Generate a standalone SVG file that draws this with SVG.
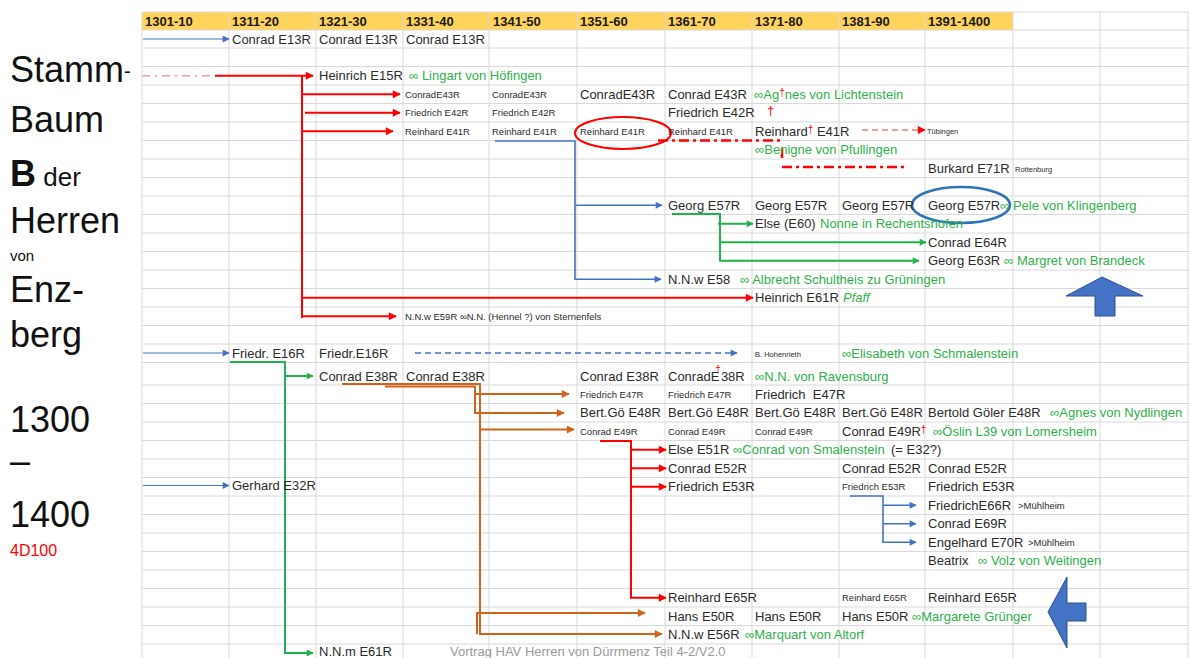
<svg xmlns="http://www.w3.org/2000/svg" width="1189" height="658" viewBox="0 0 1189 658">
<defs>
<style>
.n{font-family:"Liberation Sans",Arial,sans-serif;font-size:13px;fill:#2b2b2b}
.s{font-size:9.5px}
.xs{font-size:7.5px}
.g{fill:#2fb04c}
.r{fill:#ff0000}
.hd{font-family:"Liberation Sans",Arial,sans-serif;font-size:13px;font-weight:bold;fill:#1a1a1a}
.ti{font-family:"Liberation Sans",Arial,sans-serif;font-size:36px;fill:#111}
.grid{stroke:#d9d9d9;stroke-width:1;fill:none}
.lr{stroke:#ff0000;stroke-width:2;fill:none}
.lb{stroke:#4472c4;stroke-width:1.6;fill:none}
.lbt{stroke:#4472c4;stroke-width:1;fill:none}
.lg{stroke:#22b14c;stroke-width:2;fill:none}
.lo{stroke:#d0641c;stroke-width:2;fill:none}
.dd{stroke:#ff0000;stroke-width:2.5;fill:none;stroke-dasharray:10 4 3 4}
</style>
<marker id="ar" viewBox="0 0 10 10" refX="9" refY="5" markerWidth="9" markerHeight="8" markerUnits="userSpaceOnUse" orient="auto"><path d="M0,0 L10,5 L0,10 z" fill="#ff0000"/></marker>
<marker id="ab" viewBox="0 0 10 10" refX="9" refY="5" markerWidth="8" markerHeight="7" markerUnits="userSpaceOnUse" orient="auto"><path d="M0,0 L10,5 L0,10 z" fill="#4472c4"/></marker>
<marker id="ag" viewBox="0 0 10 10" refX="9" refY="5" markerWidth="9" markerHeight="7" markerUnits="userSpaceOnUse" orient="auto"><path d="M0,0 L10,5 L0,10 z" fill="#22b14c"/></marker>
<marker id="ao" viewBox="0 0 10 10" refX="9" refY="5" markerWidth="9" markerHeight="8" markerUnits="userSpaceOnUse" orient="auto"><path d="M0,0 L10,5 L0,10 z" fill="#d0641c"/></marker>
</defs>
<rect width="1189" height="658" fill="#ffffff"/>
<g id="grid">
<rect x="142" y="12" width="871" height="18" fill="#ffd35c"/>
<path class="grid" d="M142,12V658M229,12V658M316,12V658M403,12V658M489,12V658M577,12V658M665,12V658M752,12V658M839,12V658M925,12V658M1013,12V658M1100,12V658M1188,12V658"/>
<path class="grid" d="M142,12H1189M142,30H1189M142,48H1189M142,66.5H1189M142,85H1189M142,103.5H1189M142,122H1189M142,140.5H1189M142,159H1189M142,177.5H1189M142,196H1189M142,214.5H1189M142,233H1189M142,251.5H1189M142,270H1189M142,288.5H1189M142,307H1189M142,325.5H1189M142,344H1189M142,362.5H1189M142,385H1189M142,403.5H1189M142,422H1189M142,440.5H1189M142,459H1189M142,477.5H1189M142,496H1189M142,514.5H1189M142,533H1189M142,551.5H1189M142,570H1189M142,588.5H1189M142,607H1189M142,625.5H1189M142,644H1189"/>
</g>
<g id="header">
<text class="hd" x="145" y="25.5">1301-10</text>
<text class="hd" x="232" y="25.5">1311-20</text>
<text class="hd" x="319" y="25.5">1321-30</text>
<text class="hd" x="406" y="25.5">1331-40</text>
<text class="hd" x="493" y="25.5">1341-50</text>
<text class="hd" x="580" y="25.5">1351-60</text>
<text class="hd" x="668" y="25.5">1361-70</text>
<text class="hd" x="755" y="25.5">1371-80</text>
<text class="hd" x="842" y="25.5">1381-90</text>
<text class="hd" x="928" y="25.5">1391-1400</text>
</g>
<g id="title">
<text class="ti" x="10" y="82">Stamm<tspan font-size="20" dy="-4">-</tspan></text>
<text class="ti" x="10" y="132">Baum</text>
<text class="ti" x="10" y="186"><tspan font-weight="bold">B</tspan><tspan font-size="26"> der</tspan></text>
<text class="ti" x="10" y="233">Herren</text>
<text class="ti" x="10" y="261" style="font-size:15px">von</text>
<text class="ti" x="10" y="302">Enz-</text>
<text class="ti" x="10" y="347">berg</text>
<text class="ti" x="10" y="432">1300</text>
<text class="ti" x="10" y="473">–</text>
<text class="ti" x="10" y="527">1400</text>
<text class="ti" x="10" y="556" style="font-size:16px;fill:#ff0000">4D100</text>
</g>
<g id="connectors">
<path class="lbt" d="M143,39H229" marker-end="url(#ab)"/>
<path class="lbt" d="M143,353H229" marker-end="url(#ab)"/>
<path class="lbt" d="M143,485.5H229" marker-end="url(#ab)"/>
<path d="M142,75.75H215" stroke="#f4a0a0" stroke-width="1.5" stroke-dasharray="8 5 2 5" fill="none"/>
<path class="lr" d="M215,75.75H313" marker-end="url(#ar)"/>
<path class="lr" d="M302,75.75V318"/>
<path class="lr" d="M302,94.25H400" marker-end="url(#ar)"/>
<path class="lr" d="M305,112.75H400" marker-end="url(#ar)"/>
<path class="lr" d="M302,131.25H393" marker-end="url(#ar)"/>
<path class="lr" d="M302,297.75H753" marker-end="url(#ar)"/>
<path class="lr" d="M302,316.25H396" marker-end="url(#ar)"/>
<path class="lb" d="M495,141H575V279.25H661" marker-end="url(#ab)"/>
<path class="lb" d="M575,205.25H662" marker-end="url(#ab)"/>
<ellipse cx="623" cy="133" rx="48" ry="16" fill="none" stroke="#ff0000" stroke-width="2"/>
<path class="dd" d="M658,140.5H782"/>
<path class="dd" d="M782,148V161" stroke-dasharray="7 3"/>
<path class="dd" d="M782,167H908"/>
<path d="M862,130H925" stroke="#f08080" stroke-width="1.5" stroke-dasharray="6 4" fill="none" marker-end="url(#ar)"/>
<ellipse cx="961" cy="205" rx="49" ry="18" fill="none" stroke="#2e75b6" stroke-width="2.5"/>
<path class="lg" d="M672,214H720V260.75H919" marker-end="url(#ag)"/>
<path class="lg" d="M718,223.75H753" marker-end="url(#ag)"/>
<path class="lg" d="M720,242.25H926" marker-end="url(#ag)"/>
<path d="M415,353H737" stroke="#4472c4" stroke-width="1.6" stroke-dasharray="6 4" fill="none" marker-end="url(#ab)"/>
<path class="lg" d="M230,362H285V653H313" marker-end="url(#ag)"/>
<path class="lg" d="M285,376H313" marker-end="url(#ag)"/>
<path class="lo" d="M342,384H480V634H662" marker-end="url(#ao)"/>
<path class="lo" d="M385,386.5H475V413H564" marker-end="url(#ao)"/>
<path class="lo" d="M475,394H569" marker-end="url(#ao)"/>
<path class="lo" d="M480,429.5H574" marker-end="url(#ao)"/>
<path class="lo" d="M477,612V634M477,613H645" marker-end="url(#ao)"/>
<path class="lr" d="M600,441H631V597.75H666" marker-end="url(#ar)"/>
<path class="lr" d="M631,449.75H666" marker-end="url(#ar)"/>
<path class="lr" d="M631,468.25H666" marker-end="url(#ar)"/>
<path class="lr" d="M631,486.75H666" marker-end="url(#ar)"/>
<path class="lb" d="M850,496H883V542.25H916" marker-end="url(#ab)"/>
<path class="lb" d="M883,505.25H916" marker-end="url(#ab)"/>
<path class="lb" d="M883,523.75H916" marker-end="url(#ab)"/>
</g>
<g id="big-arrows">
<polygon points="1102,277 1143,296 1115,296 1115,316 1095,316 1095,296 1066,296" fill="#4472c4" stroke="#2f528f" stroke-width="1"/>
<polygon points="1048,612 1067,577 1067,603 1086,603 1086,621 1067,621 1067,648" fill="#4472c4" stroke="#2f528f" stroke-width="1"/>
</g>
<g id="conrad-e13r"><text class="n" x="232" y="43.5">Conrad E13R</text><text class="n" x="319" y="43.5">Conrad E13R</text><text class="n" x="406" y="43.5">Conrad E13R</text></g>
<g id="heinrich-e15r"><text class="n" x="319" y="80">Heinrich E15R</text><text class="n g" x="409" y="80">∞ Lingart von Höfingen</text></g>
<g id="conrad-e43r"><text class="n s" x="405" y="97.5">ConradE43R</text><text class="n s" x="492" y="97.5">ConradE43R</text><text class="n" x="580" y="98.5">ConradE43R</text><text class="n" x="668" y="98.5">Conrad E43R</text><text class="n g" x="754" y="98.5">∞Ag<tspan class="r" font-size="10" dy="-3">†</tspan><tspan dy="3">nes von Lichtenstein</tspan></text></g>
<g id="friedrich-e42r"><text class="n s" x="405" y="116">Friedrich E42R</text><text class="n s" x="492" y="116">Friedrich E42R</text><text class="n" x="668" y="117">Friedrich E42R</text><text class="n r" x="767" y="115" font-size="11">†</text></g>
<g id="reinhard-e41r"><text class="n s" x="405" y="134.5">Reinhard E41R</text><text class="n s" x="492" y="134.5">Reinhard E41R</text><text class="n s" x="580" y="134.5">Reinhard E41R</text><text class="n s" x="668" y="134.5">Reinhard E41R</text><text class="n" x="755" y="135.5">Reinhard<tspan class="r" font-size="10" dy="-3">†</tspan><tspan dy="3"> E41R</tspan></text><text class="n xs" x="927" y="134">Tübingen</text></g>
<g id="benigne"><text class="n g" x="755" y="154">∞Benigne von Pfullingen</text></g>
<g id="burkard-e71r"><text class="n" x="928" y="173">Burkard E71R</text><text class="n xs" x="1015" y="172">Rottenburg</text></g>
<g id="georg-e57r"><text class="n" x="668" y="209.5">Georg E57R</text><text class="n" x="755" y="209.5">Georg E57R</text><text class="n" x="842" y="209.5">Georg E57R</text><text class="n" x="928" y="209.5">Georg E57R</text><text class="n g" x="1000" y="209.5">∞ Pele von Klingenberg</text></g>
<g id="else-e60"><text class="n" x="755" y="228">Else (E60)</text><text class="n g" x="820" y="228">Nonne in Rechentshofen</text></g>
<g id="conrad-e64r"><text class="n" x="928" y="246.5">Conrad E64R</text></g>
<g id="georg-e63r"><text class="n" x="928" y="265">Georg E63R</text><text class="n g" x="1004" y="265">∞ Margret von Brandeck</text></g>
<g id="nnw-e58"><text class="n" x="668" y="283.5">N.N.w E58</text><text class="n g" x="740" y="283.5">∞ Albrecht Schultheis zu Grüningen</text></g>
<g id="heinrich-e61r"><text class="n" x="755" y="302">Heinrich E61R</text><text class="n g" x="843" y="302" font-style="italic">Pfaff</text></g>
<g id="nnw-e59r"><text class="n s" x="405" y="319.5">N.N.w E59R ∞N.N. (Hennel ?) von Sternenfels</text></g>
<g id="friedr-e16r"><text class="n" x="232" y="357.5">Friedr. E16R</text><text class="n" x="319" y="357.5">Friedr.E16R</text><text class="n xs" x="755" y="357">B. Hohenrieth</text><text class="n g" x="842" y="357.5">∞Elisabeth von Schmalenstein</text></g>
<g id="conrad-e38r"><text class="n" x="319" y="380.5">Conrad E38R</text><text class="n" x="406" y="380.5">Conrad E38R</text><text class="n" x="580" y="380.5">Conrad E38R</text><text class="n" x="668" y="380.5">ConradE<tspan class="r" font-size="10" dx="-4" dy="-8">†</tspan><tspan dy="8">38R</tspan></text><text class="n g" x="755" y="380.5">∞N.N. von Ravensburg</text></g>
<g id="friedrich-e47r"><text class="n s" x="580" y="397.5">Friedrich E47R</text><text class="n s" x="668" y="397.5">Friedrich E47R</text><text class="n" x="755" y="398.5" xml:space="preserve">Friedrich  E47R</text></g>
<g id="bertold-e48r"><text class="n" x="580" y="417">Bert.Gö E48R</text><text class="n" x="668" y="417">Bert.Gö E48R</text><text class="n" x="755" y="417">Bert.Gö E48R</text><text class="n" x="842" y="417">Bert.Gö E48R</text><text class="n" x="928" y="417">Bertold Göler E48R</text><text class="n g" x="1050" y="417">∞Agnes von Nydlingen</text></g>
<g id="conrad-e49r"><text class="n s" x="580" y="434.5">Conrad E49R</text><text class="n s" x="668" y="434.5">Conrad E49R</text><text class="n s" x="755" y="434.5">Conrad E49R</text><text class="n" x="842" y="435.5">Conrad E49R<tspan class="r" font-size="10" dy="-3">†</tspan></text><text class="n g" x="933" y="435.5">∞Öslin L39 von Lomersheim</text></g>
<g id="else-e51r"><text class="n" x="668" y="454">Else E51R</text><text class="n g" x="733" y="454">∞Conrad von Smalenstein</text><text class="n" x="891" y="454">(= E32?)</text></g>
<g id="conrad-e52r"><text class="n" x="668" y="472.5">Conrad E52R</text><text class="n" x="842" y="472.5">Conrad E52R</text><text class="n" x="928" y="472.5">Conrad E52R</text></g>
<g id="friedrich-e53r"><text class="n" x="668" y="491">Friedrich E53R</text><text class="n s" x="842" y="490">Friedrich E53R</text><text class="n" x="928" y="491">Friedrich E53R</text></g>
<g id="gerhard-e32r"><text class="n" x="232" y="490">Gerhard E32R</text></g>
<g id="friedrich-e66r"><text class="n" x="928" y="509.5">FriedrichE66R</text><text class="n s" x="1018" y="508.5">&gt;Mühlheim</text></g>
<g id="conrad-e69r"><text class="n" x="928" y="528">Conrad E69R</text></g>
<g id="engelhard-e70r"><text class="n" x="928" y="546.5">Engelhard E70R</text><text class="n s" x="1028" y="545.5">&gt;Mühlheim</text></g>
<g id="beatrix"><text class="n" x="928" y="565">Beatrix</text><text class="n g" x="978" y="565">∞ Volz von Weitingen</text></g>
<g id="reinhard-e65r"><text class="n" x="668" y="602">Reinhard E65R</text><text class="n s" x="842" y="601">Reinhard E65R</text><text class="n" x="928" y="602">Reinhard E65R</text></g>
<g id="hans-e50r"><text class="n" x="668" y="620.5">Hans E50R</text><text class="n" x="755" y="620.5">Hans E50R</text><text class="n" x="842" y="620.5">Hans E50R</text><text class="n g" x="912" y="620.5">∞Margarete Grünger</text></g>
<g id="nnw-e56r"><text class="n" x="668" y="639">N.N.w E56R</text><text class="n g" x="745" y="639">∞Marquart von Altorf</text></g>
<g id="nnm-e61r"><text class="n" x="319" y="656">N.N.m E61R</text></g>
<g id="footer"><text class="n" x="450" y="656" style="fill:#9a9a9a">Vortrag HAV Herren von Dürrmenz Teil 4-2/V2.0</text></g>
</svg>
